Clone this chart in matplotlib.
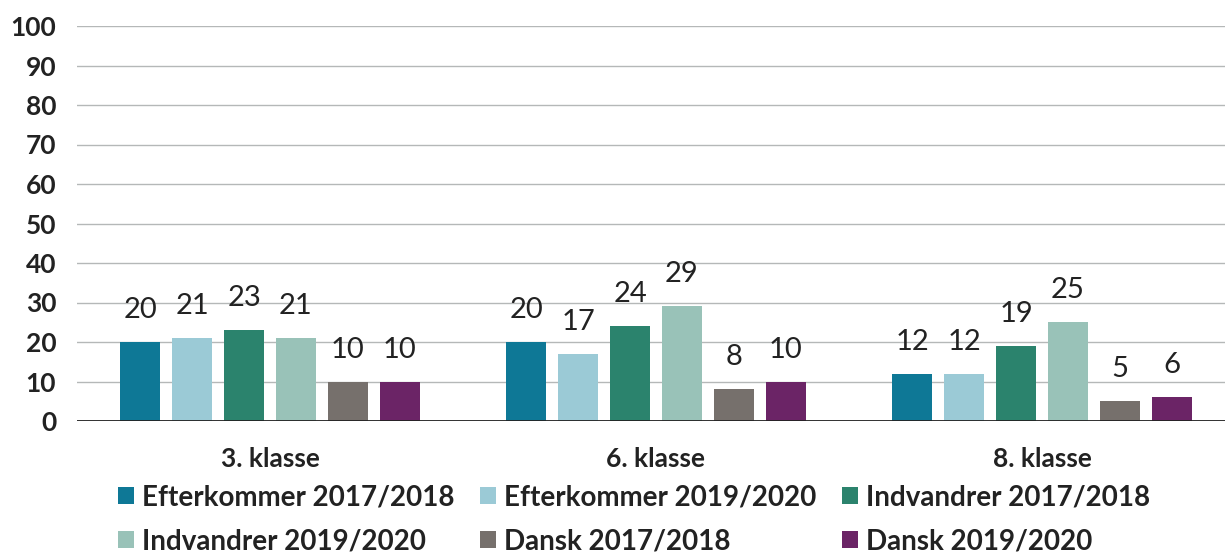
import numpy as np
import matplotlib.pyplot as plt

# Data
classes = ["3. klasse", "6. klasse", "8. klasse"]
series = ["Efterkommer 2017/2018", "Efterkommer 2019/2020", "Indvandrer 2017/2018",
          "Indvandrer 2019/2020", "Dansk 2017/2018", "Dansk 2019/2020"]
efter_1718 = [20, 20, 12]
efter_1920 = [21, 17, 12]
indv_1718 = [23, 24, 19]
indv_1920 = [21, 29, 25]
dansk_1718 = [10, 8, 5]
dansk_1920 = [10, 10, 6]
values = [efter_1718, efter_1920, indv_1718, indv_1920, dansk_1718, dansk_1920]
colors = ["#0e7896", "#9bcad6", "#2b836d", "#99c2b8", "#76706c", "#6b2466"]

plt.rcParams['font.family'] = ['Lato', 'DejaVu Sans']

fig = plt.figure(figsize=(12.25, 5.53), dpi=100)
ax = fig.add_axes([77/1225, 1 - 421/553, 1158/1225, 395/553])

x = np.arange(len(classes))
step = 0.1347
width = 0.1036
handles = []
for i, (name, vals, col) in enumerate(zip(series, values, colors)):
    pos = x + (i - 2.5) * step
    b = ax.bar(pos, vals, width, color=col, label=name, zorder=3)
    handles.append(b)
    for p, v in zip(pos, vals):
        ax.text(p, v + 4.8, str(v), ha='center', va='bottom', fontsize=21, color='#222222')

ax.set_xlim(-0.5, 2.5)
ax.set_ylim(0, 100)
ax.set_yticks(range(0, 101, 10))
ax.yaxis.grid(True, color='#b5b8b8', linewidth=1, zorder=0)
ax.axhline(0, color='#222222', linewidth=1.3, zorder=4)
for s in ax.spines.values():
    s.set_visible(False)
ax.tick_params(axis='both', length=0, labelsize=19, labelcolor='#222222')
ax.tick_params(axis='y', pad=15)
ax.tick_params(axis='x', pad=19)
ax.set_xticks(x)
ax.set_xticklabels(classes, fontweight='bold')
for t in ax.get_yticklabels():
    t.set_fontweight('bold')

order = [0, 3, 1, 4, 2, 5]
leg = fig.legend([handles[i] for i in order], [series[i] for i in order],
                 ncol=3, loc='lower left', bbox_to_anchor=(93/1225, -0.048),
                 frameon=False, handlelength=0.58, handleheight=0.58,
                 handletextpad=0.3, columnspacing=0.9, labelspacing=0.66,
                 prop={'size': 20, 'weight': 'bold'})
for t in leg.get_texts():
    t.set_color('#222222')

fig.savefig("out.png", dpi=100)
